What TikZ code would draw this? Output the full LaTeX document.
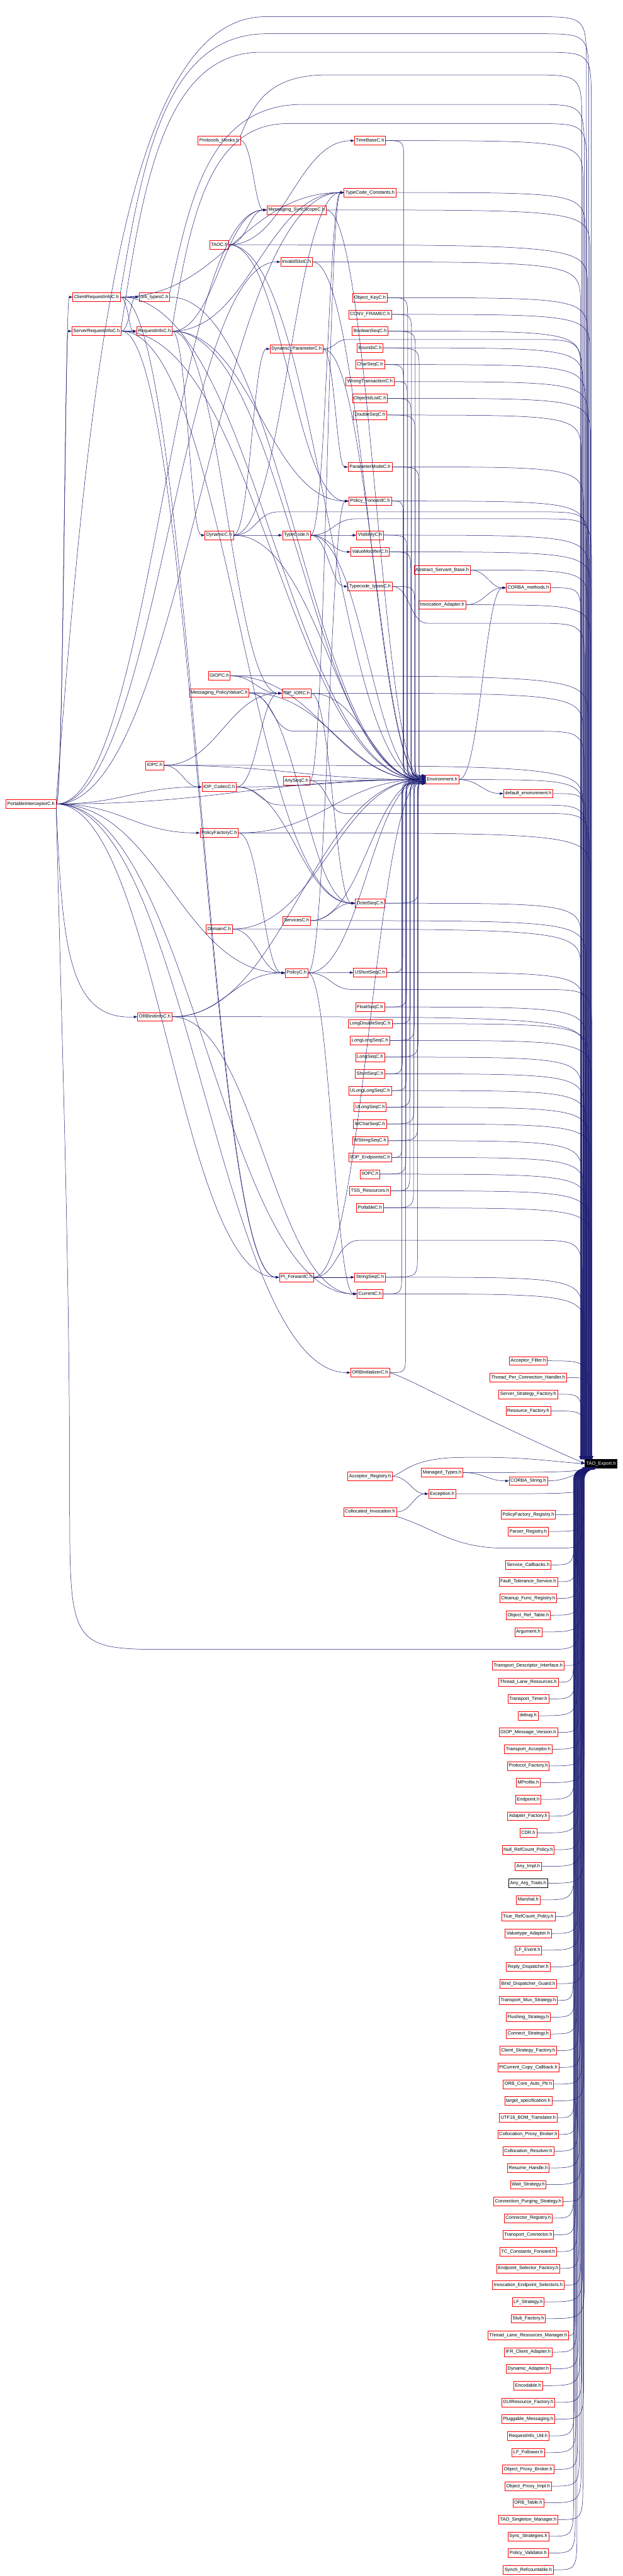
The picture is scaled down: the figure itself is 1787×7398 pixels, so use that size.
\documentclass[tikz,border=0pt]{standalone}
\usepackage{fontspec}
\setmainfont{Liberation Sans}
\usetikzlibrary{arrows.meta,calc}
\definecolor{ec}{RGB}{25,25,112}
\tikzset{
  nd/.style={draw=red, line width=1pt, font=\fontsize{13.5}{16}\selectfont, inner xsep=4pt, inner ysep=0pt, minimum height=25pt, text height=10pt, text depth=3pt},
  ndk/.style={nd, draw=black},
  rootnd/.style={nd, draw=black, fill=black, text=white},
  edge/.style={draw=ec, line width=0.9pt, line join=round, -{Triangle[length=10pt,width=7pt]}},
}
\newcounter{bxc}
\newcounter{exc}
% generic edge east -> west
\newcommand\edg[2]{\draw[edge] let \p1=(#1.east), \p2=(#2.west), \n1={max(15,0.45*(\x2-\x1))} in (\p1) .. controls +(\n1,0) and +(-\n1,0) .. (\p2);}
\newcommand\upx{\stepcounter{bxc}\pgfmathsetmacro\xb{1666+mod(\arabic{bxc}*7,34)}}
\newcommand\lox{\stepcounter{bxc}\pgfmathsetmacro\xb{1646+mod(\arabic{bxc}*5,32)}}
% to TAO from above
\newcommand\tdn[1]{\upx%
  \draw[edge] let \p1=(#1.east), \n1={min(120,0.5*(\y1+4191.5))} in (\p1) .. controls (\xb,\y1) .. (\xb,\y1-\n1) -- (\xb,-4191.5);}
% to TAO from below
\newcommand\tup[1]{\lox%
  \draw[edge] let \p1=(#1.east), \n1={min(120,0.5*(-4250-(\y1)))} in (\p1) .. controls (\xb,\y1) .. (\xb,\y1+\n1) -- (\xb,-4250) .. controls (\xb,-4228) and (\xb+16,-4221) .. (\xb+36,-4214.5);}
\newcommand\tupn[1]{\lox%
  \draw[edge] let \p1=(#1.east) in (\p1) .. controls (\xb-30,\y1) and (\xb,-4226) .. (\xb+36,-4214.5);}
% to TAO routed at level #2 with S of length #3
\newcommand\tvr[3]{\upx%
  \draw[edge] let \p1=(#1.east) in (\p1) .. controls (\x1+0.5*#3,\y1) and (\x1+0.5*#3,-#2) .. (\x1+#3,-#2) -- (\xb-150,-#2) .. controls (\xb,-#2) .. (\xb,-#2-150) -- (\xb,-4191.5);}
\newcommand\tvu[3]{\upx%
  \draw[edge] let \p1=(#1.north east) in (\p1) .. controls (\x1+0.15*#3,{(\y1)*0.5-0.5*#2}) and (\x1+0.3*#3,-#2) .. (\x1+#3,-#2) -- (\xb-150,-#2) .. controls (\xb,-#2) .. (\xb,-#2-150) -- (\xb,-4191.5);}
% to Environment from above / below through the bundle
\newcommand\envd[1]{\stepcounter{exc}\pgfmathsetmacro\xe{1148+mod(\arabic{exc}*11,56)}\pgfmathsetmacro\oe{2+mod(\arabic{exc}*5,11)}%
  \draw[edge] let \p1=(#1.east), \p2=($(ENV.west)+(0,\oe)$) in (\p1) .. controls (\xe,\y1) .. (\xe,\y1-60) -- (\xe,\y2+60) .. controls (\xe,\y2) .. (\p2);}
\newcommand\envu[1]{\stepcounter{exc}\pgfmathsetmacro\xe{1148+mod(\arabic{exc}*11,56)}\pgfmathsetmacro\oe{2+mod(\arabic{exc}*5,11)}%
  \draw[edge] let \p1=(#1.east), \p2=($(ENV.west)+(0,-\oe)$) in (\p1) .. controls (\xe,\y1) .. (\xe,\y1+60) -- (\xe,\y2-60) .. controls (\xe,\y2) .. (\p2);}

\begin{document}
\begin{tikzpicture}[x=1pt,y=1pt]
\fill[white] (0,0) rectangle (1787,-7398);
\useasboundingbox (0,0) rectangle (1787,-7398);

% ---- column 0..4
\node[nd] (PIC) at (89,-2309) {PortableInterceptorC.h};
\node[nd] (CRI) at (277,-853) {ClientRequestInfoC.h};
\node[nd] (SRI) at (277,-951) {ServerRequestInfoC.h};
\node[nd] (OTC) at (443,-853) {orb\_typesC.h};
\node[nd] (RIC) at (443,-951) {RequestInfoC.h};
\node[nd] (IOPC) at (444,-2198) {IOPC.h};
\node[nd] (OII) at (444,-2920) {ORBInitInfoC.h};
\node[nd] (PH) at (629,-403) {Protocols\_Hooks.h};
\node[nd] (TAOC) at (629,-703) {TAOC.h};
\node[nd] (DYN) at (629,-1537) {DynamicC.h};
\node[nd] (GIOPC) at (629,-1941) {GIOPC.h};
\node[nd] (MPV) at (629,-1990) {Messaging\_PolicyValueC.h};
\node[nd] (CODEC) at (629,-2260) {IOP\_CodecC.h};
\node[nd] (PFC) at (629,-2392) {PolicyFactoryC.h};
\node[nd] (DOM) at (629,-2668) {DomainC.h};
\node[nd] (MSS) at (851,-603) {Messaging\_SyncScopeC.h};
\node[nd] (ISC) at (851,-752) {InvalidSlotC.h};
\node[nd] (DPC) at (851,-1002) {Dynamic\_ParameterC.h};
\node[nd] (TC) at (851,-1537) {TypeCode.h};
\node[nd] (IOR) at (851,-1991) {IOP\_IORC.h};
\node[nd] (ANY) at (851,-2242) {AnySeqC.h};
\node[nd] (SVC) at (851,-2644) {ServicesC.h};
\node[nd] (POL) at (851,-2794) {PolicyC.h};
\node[nd] (PIF) at (851,-3668) {PI\_ForwardC.h};
% ---- column 5
\node[nd] (TBC) at (1062,-404) {TimeBaseC.h};
\node[nd] (TCC) at (1062,-553) {TypeCode\_Constants.h};
\node[nd] (OKC) at (1062,-855) {Object\_KeyC.h};
\node[nd] (CFC) at (1062,-903) {CONV\_FRAMEC.h};
\node[nd] (BSC) at (1062,-951) {BooleanSeqC.h};
\node[nd] (BDC) at (1062,-999) {BoundsC.h};
\node[nd] (CSC) at (1062,-1047) {CharSeqC.h};
\node[nd] (WTC) at (1062,-1096) {WrongTransactionC.h};
\node[nd] (OIL) at (1062,-1144) {ObjectIdListC.h};
\node[nd] (DSC) at (1062,-1192) {DoubleSeqC.h};
\node[nd] (PMC) at (1062,-1341) {ParameterModeC.h};
\node[nd] (PFW) at (1062,-1439) {Policy\_ForwardC.h};
\node[nd] (VIS) at (1062,-1537) {VisibilityC.h};
\node[nd] (VMC) at (1062,-1585) {ValueModifierC.h};
\node[nd] (TTC) at (1062,-1684) {Typecode\_typesC.h};
\node[nd] (OSC) at (1062,-2594) {OctetSeqC.h};
\node[nd] (USS) at (1062,-2793) {UShortSeqC.h};
\node[nd] (FSC) at (1062,-2892) {FloatSeqC.h};
\node[nd] (LDS) at (1062,-2940) {LongDoubleSeqC.h};
\node[nd] (LLS) at (1062,-2988) {LongLongSeqC.h};
\node[nd] (LSC) at (1062,-3036) {LongSeqC.h};
\node[nd] (SSC) at (1062,-3084) {ShortSeqC.h};
\node[nd] (ULL) at (1062,-3132) {ULongLongSeqC.h};
\node[nd] (ULS) at (1062,-3180) {ULongSeqC.h};
\node[nd] (WCS) at (1062,-3228) {WCharSeqC.h};
\node[nd] (WSS) at (1062,-3276) {WStringSeqC.h};
\node[nd] (IEP) at (1062,-3324) {IIOP\_EndpointsC.h};
\node[nd] (IIOP) at (1062,-3372) {IIOPC.h};
\node[nd] (TSS) at (1062,-3420) {TSS\_Resources.h};
\node[nd] (POLL) at (1062,-3469) {PollableC.h};
\node[nd] (STS) at (1062,-3668) {StringSeqC.h};
\node[nd] (CUR) at (1062,-3716) {CurrentC.h};
\node[nd] (ORBI) at (1062,-3942) {ORBInitializerC.h};
\node[nd] (AR) at (1062,-4240) {Acceptor\_Registry.h};
\node[nd] (CI) at (1062,-4342) {Collocated\_Invocation.h};
% ---- column 6
\node[nd] (ASB) at (1269,-1637) {Abstract\_Servant\_Base.h};
\node[nd] (IA) at (1269,-1737) {Invocation\_Adapter.h};
\node[nd] (ENV) at (1269,-2239) {Environment.h};
\node[nd] (MT) at (1269,-4229) {Managed\_Types.h};
\node[nd] (EXC) at (1269,-4290) {Exception.h};
% ---- column 7
\node[nd] (CM) at (1516,-1688) {CORBA\_methods.h};
\node[nd] (DE) at (1516,-2279) {default\_environment.h};
\node[nd] (AF) at (1516,-3908) {Acceptor\_Filter.h};
\node[nd] (TPC) at (1516,-3956) {Thread\_Per\_Connection\_Handler.h};
\node[nd] (SSF) at (1516,-4004) {Server\_Strategy\_Factory.h};
\node[nd] (RF) at (1516,-4052) {Resource\_Factory.h};
\node[nd] (CS) at (1516,-4253) {CORBA\_String.h};
\foreach \i/\t in {0/PolicyFactory\_Registry.h, 1/Parser\_Registry.h, 3/Service\_Callbacks.h,
  4/Fault\_Tolerance\_Service.h, 5/Cleanup\_Func\_Registry.h, 6/Object\_Ref\_Table.h, 7/Argument.h,
  9/Transport\_Descriptor\_Interface.h, 10/Thread\_Lane\_Resources.h, 11/Transport\_Timer.h, 12/debug.h,
  13/GIOP\_Message\_Version.h, 14/Transport\_Acceptor.h, 15/Protocol\_Factory.h, 16/MProfile.h,
  17/Endpoint.h, 18/Adapter\_Factory.h, 19/CDR.h, 20/Null\_RefCount\_Policy.h, 21/Any\_Impl.h,
  23/Marshal.h, 24/True\_RefCount\_Policy.h, 25/Valuetype\_Adapter.h, 26/LF\_Event.h,
  27/Reply\_Dispatcher.h, 28/Bind\_Dispatcher\_Guard.h, 29/Transport\_Mux\_Strategy.h,
  30/Flushing\_Strategy.h, 31/Connect\_Strategy.h, 32/Client\_Strategy\_Factory.h,
  33/PICurrent\_Copy\_Callback.h, 34/ORB\_Core\_Auto\_Ptr.h, 35/target\_specification.h,
  36/UTF16\_BOM\_Translator.h, 37/Collocation\_Proxy\_Broker.h, 38/Collocation\_Resolver.h,
  39/Resume\_Handle.h, 40/Wait\_Strategy.h, 41/Connection\_Purging\_Strategy.h,
  42/Connector\_Registry.h, 43/Transport\_Connector.h, 44/TC\_Constants\_Forward.h,
  45/Endpoint\_Selector\_Factory.h, 46/Invocation\_Endpoint\_Selectors.h, 47/LF\_Strategy.h,
  48/Stub\_Factory.h, 49/Thread\_Lane\_Resources\_Manager.h, 50/IFR\_Client\_Adapter.h,
  51/Dynamic\_Adapter.h, 52/Encodable.h, 53/GUIResource\_Factory.h, 54/Pluggable\_Messaging.h,
  55/RequestInfo\_Util.h, 56/LF\_Follower.h, 57/Object\_Proxy\_Broker.h, 58/Object\_Proxy\_Impl.h,
  59/ORB\_Table.h, 60/TAO\_Singleton\_Manager.h, 61/Sync\_Strategies.h, 62/Policy\_Validator.h,
  63/Synch\_Refcountable.h}
  \node[nd] (s\i) at (1516,{-4350-48.1*\i}) {\t};
\node[ndk] (s22) at (1516,{-4350-48.1*22}) {Any\_Arg\_Traits.h};
% ---- root
\node[rootnd] (TAO) at (1725,-4203) {TAO\_Export.h};

% ================= edges
% column 0
\edg{PIC}{CRI}\edg{PIC}{SRI}\edg{PIC}{CODEC}\edg{PIC}{PFC}\edg{PIC}{ORBI}
\edg{PIC}{PIF}\edg{PIC}{ISC}\edg{PIC}{MSS}\edg{PIC}{POL}\edg{PIC}{CUR}\edg{PIC}{TCC}\edg{PIC}{ENV}
\draw[edge] (PIC.south east) .. controls (180,-2700) and (190,-2931) .. (OII.west);
% column 1
\edg{CRI}{OTC}\edg{CRI}{RIC}\edg{CRI}{PIF}\edg{CRI}{TCC}\edg{CRI}{ENV}
\edg{SRI}{RIC}\edg{SRI}{OTC}\edg{SRI}{PIF}\edg{SRI}{OSC}\edg{SRI}{ENV}
% column 2
\edg{OTC}{ENV}
\edg{RIC}{DYN}\edg{RIC}{MSS}\edg{RIC}{IOR}\edg{RIC}{PFW}\edg{RIC}{TCC}\edg{RIC}{ENV}
\edg{IOPC}{CODEC}\edg{IOPC}{IOR}\edg{IOPC}{ENV}
\edg{OII}{POL}\edg{OII}{CUR}\edg{OII}{ENV}
% column 3
\edg{PH}{MSS}
\edg{TAOC}{MSS}\edg{TAOC}{TBC}\edg{TAOC}{PFW}\edg{TAOC}{ENV}
\edg{DYN}{TC}\edg{DYN}{DPC}\edg{DYN}{TCC}\edg{DYN}{ENV}
\edg{GIOPC}{IOR}\edg{GIOPC}{ENV}
\edg{MPV}{IOR}\edg{MPV}{OSC}\edg{MPV}{ENV}
\edg{CODEC}{IOR}\edg{CODEC}{OSC}\edg{CODEC}{ENV}
\edg{PFC}{POL}\edg{PFC}{ENV}
\edg{DOM}{POL}\edg{DOM}{ENV}
% column 4
\edg{MSS}{ENV}\edg{ISC}{ENV}\edg{DPC}{PMC}\edg{DPC}{ENV}
\edg{TC}{VIS}\edg{TC}{VMC}\edg{TC}{TTC}\edg{TC}{TCC}\edg{TC}{ENV}
\edg{IOR}{OSC}\edg{IOR}{ENV}\edg{ANY}{TCC}\edg{ANY}{ENV}\edg{SVC}{OSC}\edg{SVC}{ENV}
\edg{POL}{USS}\edg{POL}{CUR}\edg{POL}{PFW}\edg{POL}{ENV}\edg{PIF}{STS}\edg{PIF}{ENV}
% column 5/6
\edg{ASB}{CM}\edg{IA}{CM}\edg{ENV}{CM}\edg{ENV}{DE}\edg{MT}{CS}\edg{AR}{EXC}\edg{CI}{EXC}
% column 5 -> Environment
\foreach \nm in {TBC,OKC,CFC,BSC,BDC,CSC,WTC,OIL,DSC,PMC,PFW,VIS,VMC,TTC} {\envd{\nm}}
\foreach \nm in {OSC,USS,FSC,LDS,LLS,LSC,SSC,ULL,ULS,WCS,WSS,IEP,IIOP,TSS,POLL,STS,CUR,ORBI} {\envu{\nm}}
% -> TAO_Export from above
\foreach \nm in {TBC,TCC,OKC,CFC,BSC,BDC,CSC,WTC,OIL,DSC,PMC,PFW,VIS,VMC,
  OSC,USS,FSC,LDS,LLS,LSC,SSC,ULL,ULS,WCS,WSS,IEP,IIOP,TSS,POLL,STS,CUR,
  TAOC,MSS,ISC,IOPC,OII,GIOPC,PFC,DOM,IOR,SVC,ASB,IA,CM,ENV,DE,AF,TPC,SSF,RF} {\tdn{\nm}}
\tvu{PIC}{48}{600}
\tvu{CRI}{97}{420}
\tvu{SRI}{150}{400}
\tvu{PH}{215}{250}
\tvu{OTC}{300}{380}
\tvu{RIC}{355}{330}
\tvr{DYN}{1470}{130}
\tvr{TC}{1490}{130}
\tvr{DPC}{975}{70}
\tvr{MPV}{2100}{130}
\tvr{CODEC}{2312}{130}
\tvr{ANY}{2336}{100}
\tvr{POL}{2842}{130}
\tvr{PIF}{3562}{130}
\tvr{TTC}{1790}{100}
\draw[edge] (PIC.south east) .. controls (175,-2900) and (200,-3600) .. (200,-4300) .. controls (200,-4737) .. (500,-4737) -- (1560,-4737) .. controls (1662,-4737) .. (1662,-4620) -- (1662,-4250) .. controls (1662,-4228) and (1678,-4221) .. ($(TAO.south west)+(18,0)$);
\draw[edge] (ORBI.east) .. controls (1180,-3960) and (1350,-4060) .. (TAO.west);
\draw[edge] (AR.east) .. controls (1160,-4228) and (1180,-4192) .. (1300,-4186) .. controls (1500,-4180) and (1600,-4200) .. (TAO.west);
\draw[edge] (CI.south east) .. controls (1250,-4390) and (1300,-4446) .. (1450,-4446) -- (1600,-4446) .. controls (1670,-4446) .. (1670,-4330) -- (1670,-4250) .. controls (1670,-4228) and (1686,-4221) .. ($(TAO.south west)+(26,0)$);
% -> TAO_Export from below
\tupn{MT}\tupn{CS}\tup{EXC}
\foreach \i in {0,1,3,4,5,6,7,9,10,...,63} {\tup{s\i}}
\end{tikzpicture}
\end{document}
